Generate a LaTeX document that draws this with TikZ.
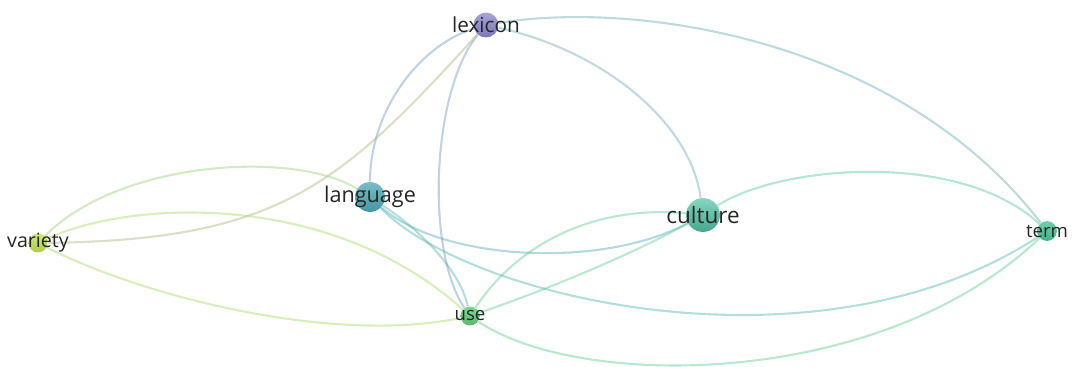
\documentclass[tikz,border=0pt]{standalone}
\usepackage{fontspec}
\setmainfont{Open Sans}
\usetikzlibrary{backgrounds}

\definecolor{lexcol}{RGB}{138,132,202}
\definecolor{langcol}{RGB}{74,168,180}
\definecolor{cultcol}{RGB}{82,196,166}
\definecolor{varcol}{RGB}{196,226,78}
\definecolor{termcol}{RGB}{74,196,152}
\definecolor{usecol}{RGB}{98,204,122}

\tikzset{
  keyword/.style={circle, inner sep=0pt, draw=none},
  word/.style={text=black!85, inner sep=0pt},
  link/.style={line width=1.2pt, draw opacity=0.42}
}

\begin{document}
\begin{tikzpicture}[x=0.02cm, y=-0.02cm]
  \useasboundingbox (0,0) rectangle (1072,367);
  % keywords, circle size follows weight (units of pt)
  \node[keyword, minimum size=14.2pt, top color=lexcol!75!white, bottom color=lexcol!90!black,
        label={[word, font=\fontsize{11.8}{12}\selectfont]center:lexicon}] (lexicon) at (486,25) {};
  \node[keyword, minimum size=17pt, top color=langcol!75!white, bottom color=langcol!90!black,
        label={[word, font=\fontsize{12.3}{13}\selectfont]center:language}] (language) at (370,197) {};
  \node[keyword, minimum size=19.3pt, top color=cultcol!70!white, bottom color=cultcol!85!black,
        label={[word, font=\fontsize{12.8}{13}\selectfont]center:culture}] (culture) at (703,215) {};
  \node[keyword, minimum size=10.8pt, top color=varcol!80!white, bottom color=varcol!90!black,
        label={[word, font=\fontsize{11.2}{12}\selectfont]center:variety}] (variety) at (38,243) {};
  \node[keyword, minimum size=11.3pt, top color=termcol!80!white, bottom color=termcol!90!black,
        label={[word, font=\fontsize{10.6}{11}\selectfont]center:term}] (term) at (1047,231) {};
  \node[keyword, minimum size=10.8pt, top color=usecol!80!white, bottom color=usecol!90!black,
        label={[word, font=\fontsize{10.6}{11}\selectfont]center:use}] (use) at (470,316) {};

  \begin{pgfonlayer}{background}
    % links from lexicon
    \draw[link, lexcol!45!termcol] (lexicon) .. controls (640,0) and (900,40) .. (term);
    \draw[link, lexcol!45!cultcol] (lexicon) .. controls (600,50) and (690,120) .. (culture);
    \draw[link, lexcol!55!langcol] (lexicon) .. controls (420,45) and (370,110) .. (language);
    \draw[link, lexcol!55!langcol] (lexicon) .. controls (432,90) and (425,250) .. (use);
    \draw[link, lexcol!35!varcol!80!gray] (lexicon) .. controls (340,185) and (280,240) .. (variety);
    % links from variety
    \draw[link, varcol!65!langcol] (variety) .. controls (120,160) and (295,150) .. (language);
    \draw[link, varcol!65!usecol] (variety) .. controls (130,200) and (330,190) .. (use);
    \draw[link, varcol!65!usecol] (variety) .. controls (140,295) and (330,345) .. (use);
    % links from language
    \draw[link, langcol!70!usecol] (language) .. controls (420,230) and (460,270) .. (use);
    \draw[link, langcol] (language) .. controls (440,260) and (600,270) .. (culture);
    \draw[link, langcol!60!termcol] (language) .. controls (470,300) and (820,380) .. (term);
    % links from use and culture
    \draw[link, usecol!50!cultcol] (use) .. controls (520,240) and (600,205) .. (culture);
    \draw[link, usecol!50!cultcol] (use) .. controls (560,285) and (640,250) .. (culture);
    \draw[link, cultcol!50!termcol] (culture) .. controls (780,165) and (960,150) .. (term);
    \draw[link, usecol!50!termcol] (use) .. controls (580,390) and (880,390) .. (term);
  \end{pgfonlayer}
\end{tikzpicture}
\end{document}
